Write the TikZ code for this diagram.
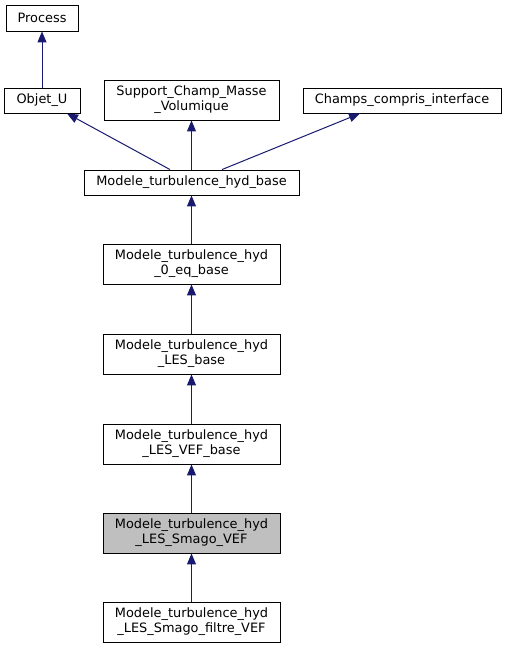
\documentclass[tikz,border=0pt]{standalone}
\usepackage{fontspec}
\setmainfont{DejaVu Sans}
\usetikzlibrary{arrows.meta}
\definecolor{edgeblue}{HTML}{191970}
\definecolor{hl}{HTML}{BFBFBF}
\tikzset{
  cls/.style={draw=black, line width=0.9pt, rectangle, align=center, inner sep=0pt,
    font=\fontsize{12.9}{15}\selectfont},
  inh/.style={draw=edgeblue, line width=1pt, -{Triangle[length=11pt,width=9pt]}},
}
\begin{document}
\begin{tikzpicture}[x=1pt,y=-1pt]
\useasboundingbox (0,0) rectangle (507,648);
\node[cls, minimum width=72, minimum height=26] (process) at (42,18) {Process};
\node[cls, minimum width=76, minimum height=25] (objetu) at (42,100.5) {Objet\_U};
\node[cls, minimum width=175, minimum height=40] (support) at (191.5,100) {Support\_Champ\_Masse\\\_Volumique};
\node[cls, minimum width=198, minimum height=25] (champs) at (402,100.5) {Champs\_compris\_interface};
\node[cls, minimum width=215, minimum height=25] (mthb) at (191.5,182.5) {Modele\_turbulence\_hyd\_base};
\node[cls, minimum width=177, minimum height=40] (zeroeq) at (191.5,264) {Modele\_turbulence\_hyd\\\_0\_eq\_base};
\node[cls, minimum width=177, minimum height=40] (les) at (191.5,354) {Modele\_turbulence\_hyd\\\_LES\_base};
\node[cls, minimum width=177, minimum height=40] (lesvef) at (191.5,444) {Modele\_turbulence\_hyd\\\_LES\_VEF\_base};
\node[cls, fill=hl, minimum width=177, minimum height=40] (smago) at (191.5,533) {Modele\_turbulence\_hyd\\\_LES\_Smago\_VEF};
\node[cls, minimum width=177, minimum height=40] (filtre) at (191.5,622) {Modele\_turbulence\_hyd\\\_LES\_Smago\_filtre\_VEF};
\draw[inh] (objetu.north) -- (process.south);
\draw[inh] ([xshift=-21.5pt]mthb.north) -- ([xshift=25pt]objetu.south);
\draw[inh] (mthb.north) -- (support.south);
\draw[inh] ([xshift=30.5pt]mthb.north) -- ([xshift=-42pt]champs.south);
\draw[inh] (zeroeq.north) -- (mthb.south);
\draw[inh] (les.north) -- (zeroeq.south);
\draw[inh] (lesvef.north) -- (les.south);
\draw[inh] (smago.north) -- (lesvef.south);
\draw[inh] (filtre.north) -- (smago.south);
\end{tikzpicture}
\end{document}
